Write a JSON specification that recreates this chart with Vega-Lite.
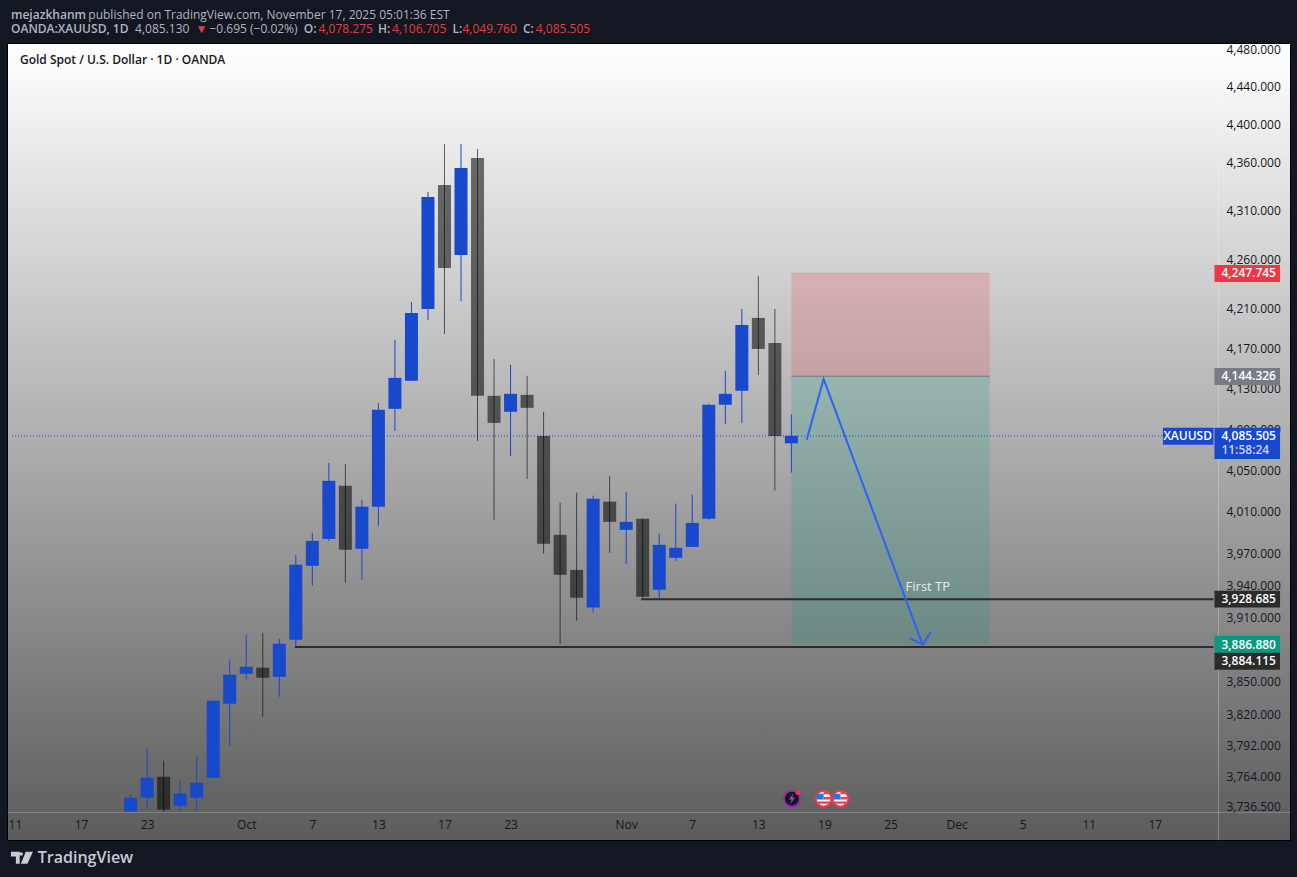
{
  "$schema": "https://vega.github.io/schema/vega-lite/v6.json",
  "width": 1283,
  "height": 797,
  "autosize": {"type": "none"},
  "padding": {"left": 7, "top": 43, "right": 7, "bottom": 37},
  "background": "#131722",
  "view": {
    "stroke": "#000000",
    "fill": {
      "gradient": "linear", "x1": 0, "y1": 0, "x2": 0, "y2": 1,
      "stops": [{"offset": 0, "color": "#ffffff"}, {"offset": 1, "color": "#5c5c5c"}]
    }
  },
  "config": {"font": "Open Sans", "text": {"font": "Open Sans"}},
  "datasets": {
    "candles": [
      {"bar": 7, "date": "Sep 22", "dir": "up", "open": 3734, "high": 3749.2, "low": 3734, "close": 3746.5},
      {"bar": 8, "date": "Sep 23", "dir": "up", "open": 3746.5, "high": 3791.5, "low": 3736.7, "close": 3764.4},
      {"bar": 9, "date": "Sep 24", "dir": "down", "open": 3765.3, "high": 3779.8, "low": 3734, "close": 3735.8},
      {"bar": 10, "date": "Sep 25", "dir": "up", "open": 3739.3, "high": 3761.7, "low": 3734, "close": 3750.1},
      {"bar": 11, "date": "Sep 26", "dir": "up", "open": 3746.5, "high": 3784.3, "low": 3734.9, "close": 3759.9},
      {"bar": 12, "date": "Sep 29", "dir": "up", "open": 3764.4, "high": 3834.5, "low": 3763.5, "close": 3834.5},
      {"bar": 13, "date": "Sep 30", "dir": "up", "open": 3831.7, "high": 3872.3, "low": 3793.3, "close": 3858.4},
      {"bar": 14, "date": "Oct 1", "dir": "up", "open": 3859.3, "high": 3895.5, "low": 3853.8, "close": 3865.8},
      {"bar": 15, "date": "Oct 2", "dir": "down", "open": 3864.9, "high": 3897.3, "low": 3819.9, "close": 3855.6},
      {"bar": 16, "date": "Oct 3", "dir": "up", "open": 3856.5, "high": 3891.8, "low": 3838.1, "close": 3887.1},
      {"bar": 17, "date": "Oct 6", "dir": "up", "open": 3890.9, "high": 3970.8, "low": 3884.3, "close": 3961.3},
      {"bar": 18, "date": "Oct 7", "dir": "up", "open": 3960.4, "high": 3991.8, "low": 3941.5, "close": 3984.1},
      {"bar": 19, "date": "Oct 8", "dir": "up", "open": 3986, "high": 4059.2, "low": 3984.1, "close": 4041.8},
      {"bar": 20, "date": "Oct 9", "dir": "down", "open": 4037, "high": 4058.2, "low": 3944.3, "close": 3975.6},
      {"bar": 21, "date": "Oct 10", "dir": "up", "open": 3976.5, "high": 4023.6, "low": 3947.1, "close": 4016.9},
      {"bar": 22, "date": "Oct 13", "dir": "up", "open": 4016.9, "high": 4118, "low": 3998.5, "close": 4111.1},
      {"bar": 23, "date": "Oct 14", "dir": "up", "open": 4112.1, "high": 4180.5, "low": 4090.5, "close": 4142.7},
      {"bar": 24, "date": "Oct 15", "dir": "up", "open": 4139.8, "high": 4218.6, "low": 4139.8, "close": 4207.6},
      {"bar": 25, "date": "Oct 16", "dir": "up", "open": 4211.6, "high": 4331.3, "low": 4200.5, "close": 4326.1},
      {"bar": 26, "date": "Oct 17", "dir": "down", "open": 4338.6, "high": 4381.3, "low": 4186.6, "close": 4253.1},
      {"bar": 27, "date": "Oct 20", "dir": "up", "open": 4266.4, "high": 4381.3, "low": 4219.6, "close": 4356.2},
      {"bar": 28, "date": "Oct 21", "dir": "down", "open": 4366.7, "high": 4376.1, "low": 4080.7, "close": 4124.9},
      {"bar": 29, "date": "Oct 22", "dir": "down", "open": 4124.9, "high": 4161.5, "low": 4004.2, "close": 4098.3},
      {"bar": 30, "date": "Oct 23", "dir": "up", "open": 4109.2, "high": 4155.6, "low": 4066, "close": 4126.9},
      {"bar": 31, "date": "Oct 24", "dir": "down", "open": 4125.9, "high": 4144.7, "low": 4043.7, "close": 4113.1},
      {"bar": 32, "date": "Oct 27", "dir": "down", "open": 4085.5, "high": 4109.2, "low": 3971.8, "close": 3981.3},
      {"bar": 33, "date": "Oct 28", "dir": "down", "open": 3989.9, "high": 4020.8, "low": 3887.1, "close": 3951.8},
      {"bar": 34, "date": "Oct 29", "dir": "down", "open": 3956.5, "high": 4030.4, "low": 3908.6, "close": 3930.2},
      {"bar": 35, "date": "Oct 30", "dir": "up", "open": 3921, "high": 4027.5, "low": 3916.3, "close": 4024.6},
      {"bar": 36, "date": "Oct 31", "dir": "down", "open": 4021.7, "high": 4046.6, "low": 3972.7, "close": 4002.3},
      {"bar": 37, "date": "Nov 3", "dir": "up", "open": 3994.6, "high": 4031.4, "low": 3962.2, "close": 4002.3},
      {"bar": 38, "date": "Nov 4", "dir": "down", "open": 4005.2, "high": 4005.2, "low": 3930.2, "close": 3931.1},
      {"bar": 39, "date": "Nov 5", "dir": "up", "open": 3937.8, "high": 3990.9, "low": 3929.2, "close": 3980.3},
      {"bar": 40, "date": "Nov 6", "dir": "up", "open": 3968, "high": 4019.8, "low": 3965.1, "close": 3977.5},
      {"bar": 41, "date": "Nov 7", "dir": "up", "open": 3978.4, "high": 4028.5, "low": 3978.4, "close": 4001.3},
      {"bar": 42, "date": "Nov 10", "dir": "up", "open": 4005.2, "high": 4117.1, "low": 4004.2, "close": 4116.1},
      {"bar": 43, "date": "Nov 11", "dir": "up", "open": 4116.1, "high": 4149.6, "low": 4097.3, "close": 4126.9},
      {"bar": 44, "date": "Nov 12", "dir": "up", "open": 4129.9, "high": 4211.6, "low": 4098.3, "close": 4195.5},
      {"bar": 45, "date": "Nov 13", "dir": "down", "open": 4202.6, "high": 4245, "low": 4145.7, "close": 4171.5},
      {"bar": 46, "date": "Nov 14", "dir": "down", "open": 4177.5, "high": 4211.6, "low": 4032.4, "close": 4085.5},
      {"bar": 47, "date": "Nov 17", "dir": "up", "open": 4078.275, "high": 4106.705, "low": 4049.76, "close": 4085.505}
    ],
    "zones": [
      {"zone": "risk", "bar": 47, "bar2": 59, "price": 4247.745, "price2": 4144.326},
      {"zone": "reward", "bar": 47, "bar2": 59, "price": 4144.326, "price2": 3886.88}
    ],
    "levels": [
      {"level": "first tp", "bar": 37.9, "bar2": 72.55, "price": 3928.685},
      {"level": "stop run", "bar": 16.94, "bar2": 72.55, "price": 3884.115}
    ],
    "zoneEdges": [
      {"edge": "top", "bar": 47, "bar2": 59, "price": 4247.745},
      {"edge": "entry", "bar": 47, "bar2": 59, "price": 4144.326}
    ],
    "lastPrice": [{"bar": -0.18, "bar2": 69.49, "price": 4085.505}],
    "arrow": [
      {"path": "shaft", "step": 1, "bar": 47.93, "price": 4081.9},
      {"path": "shaft", "step": 2, "bar": 48.95, "price": 4141.7},
      {"path": "shaft", "step": 3, "bar": 54.95, "price": 3886.2},
      {"path": "head", "step": 1, "bar": 54.17, "price": 3892.7},
      {"path": "head", "step": 2, "bar": 54.95, "price": 3886.2},
      {"path": "head", "step": 3, "bar": 55.44, "price": 3898.3}
    ],
    "tags": [
      {"tag": "risk", "bar": 72.61, "bar2": 76.58, "price": 4256.2, "price2": 4238.9},
      {"tag": "entry", "bar": 72.61, "bar2": 76.58, "price": 4152.6, "price2": 4135.6},
      {"tag": "last", "bar": 69.49, "bar2": 72.55, "price": 4093.4, "price2": 4076.8},
      {"tag": "last", "bar": 72.61, "bar2": 76.58, "price": 4093.4, "price2": 4063.1},
      {"tag": "line", "bar": 72.61, "bar2": 76.58, "price": 3936.7, "price2": 3921},
      {"tag": "reward", "bar": 72.61, "bar2": 76.58, "price": 3894.5, "price2": 3878.7},
      {"tag": "line", "bar": 72.61, "bar2": 76.58, "price": 3878.7, "price2": 3863}
    ],
    "tagText": [
      {"text": "4,247.745", "bar": 73.03, "price": 4247.745, "tone": "white"},
      {"text": "4,144.326", "bar": 73.03, "price": 4144.326, "tone": "white"},
      {"text": "4,085.505", "bar": 73.03, "price": 4085.505, "tone": "white"},
      {"text": "11:58:24", "bar": 73.03, "price": 4071.9, "tone": "pale"},
      {"text": "3,928.685", "bar": 73.03, "price": 3928.685, "tone": "white"},
      {"text": "3,886.880", "bar": 73.03, "price": 3886.4, "tone": "white"},
      {"text": "3,884.115", "bar": 73.03, "price": 3870.9, "tone": "white"}
    ],
    "headerBold": [
      {"text": "mejazkhanm", "bar": -0.24, "price": 4518.6, "tone": "muted"},
      {"text": "OANDA:XAUUSD, 1D", "bar": -0.24, "price": 4503.6, "tone": "muted"},
      {"text": "O:", "bar": 17.48, "price": 4503.6, "tone": "muted"},
      {"text": "H:", "bar": 21.98, "price": 4503.6, "tone": "muted"},
      {"text": "L:", "bar": 26.49, "price": 4503.6, "tone": "muted"},
      {"text": "C:", "bar": 30.75, "price": 4503.6, "tone": "muted"}
    ],
    "headerPlain": [
      {"text": "published on TradingView.com, November 17, 2025 05:01:36 EST", "bar": 4.44, "price": 4518.6, "tone": "muted"},
      {"text": "4,085.130", "bar": 7.27, "price": 4503.6, "tone": "muted"},
      {"text": "▼", "bar": 10.93, "price": 4503.6, "tone": "red"},
      {"text": "−0.695 (−0.02%)", "bar": 11.77, "price": 4503.6, "tone": "muted"},
      {"text": "4,078.275", "bar": 18.38, "price": 4503.6, "tone": "red"},
      {"text": "4,106.705", "bar": 22.82, "price": 4503.6, "tone": "red"},
      {"text": "4,049.760", "bar": 27.09, "price": 4503.6, "tone": "red"},
      {"text": "4,085.505", "bar": 31.53, "price": 4503.6, "tone": "red"}
    ],
    "icons": [{"bar": 47.03, "price": 3745.6}],
    "flags": [{"bar": 48.95, "price": 3745.6}, {"bar": 49.97, "price": 3745.6}]
  },
  "encoding": {
    "x": {"field": "bar", "type": "quantitative", "axis": null, "scale": {"domain": [-0.18, 76.88], "nice": false, "zero": false}},
    "y": {"field": "price", "type": "quantitative", "axis": null, "scale": {"type": "log", "domain": [3708.7, 4488.6], "nice": false}}
  },
  "resolve": {
    "axis": {"x": "independent", "y": "independent"},
    "scale": {"color": "independent", "opacity": "independent"}
  },
  "layer": [
    {
      "data": {"name": "lastPrice"},
      "mark": {"type": "rule", "color": "#1848cc", "strokeWidth": 1, "strokeDash": [1, 2]},
      "encoding": {
        "x": {
          "field": "bar", "type": "quantitative",
          "axis": {
            "orient": "bottom", "offset": -28, "title": null, "ticks": false, "grid": false,
            "domainColor": "#ffffff", "domainOpacity": 0.2, "labelColor": "#131722", "labelFontSize": 12,
            "labelPadding": 7, "labelFlush": false, "labelOverlap": false, "labelBound": false,
            "values": [0, 4, 8, 14, 18, 22, 26, 30, 37, 41, 45, 49, 53, 57, 61, 65, 69],
            "labelExpr": "{'0':'11','4':'17','8':'23','14':'Oct','18':'7','22':'13','26':'17','30':'23','37':'Nov','41':'7','45':'13','49':'19','53':'25','57':'Dec','61':'5','65':'11','69':'17'}[datum.value]"
          }
        },
        "x2": {"field": "bar2"},
        "y": {
          "field": "price", "type": "quantitative",
          "axis": {
            "orient": "right", "offset": -72, "title": null, "ticks": false, "grid": false,
            "domainColor": "#ffffff", "domainOpacity": 0.25, "labelColor": "#131722", "labelFontSize": 12,
            "labelPadding": 8, "labelOverlap": false, "labelBound": false, "labelOffset": -2, "format": ",.3f",
            "values": [4480, 4440, 4400, 4360, 4310, 4260, 4210, 4170, 4130, 4090, 4050, 4010, 3970, 3940, 3910, 3850, 3820, 3792, 3764, 3736.5]
          }
        }
      }
    },
    {
      "data": {"name": "zones"},
      "mark": {"type": "rect", "opacity": 0.2},
      "encoding": {
        "x2": {"field": "bar2"},
        "y2": {"field": "price2"},
        "color": {"field": "zone", "type": "nominal", "legend": null, "scale": {"domain": ["risk", "reward"], "range": ["#f23645", "#089981"]}}
      }
    },
    {
      "data": {"name": "zoneEdges"},
      "mark": {"type": "rule", "strokeWidth": 1},
      "encoding": {
        "x2": {"field": "bar2"},
        "color": {"field": "edge", "type": "nominal", "legend": null, "scale": {"domain": ["top", "entry"], "range": ["#d99a9c", "#787b86"]}}
      }
    },
    {
      "data": {"name": "candles"},
      "mark": {"type": "rule", "strokeWidth": 1},
      "encoding": {
        "y": {"field": "high", "type": "quantitative", "axis": null},
        "y2": {"field": "low"},
        "color": {"field": "dir", "type": "nominal", "legend": null, "scale": {"domain": ["up", "down"], "range": ["#1848cc", "#000000"]}},
        "opacity": {"field": "dir", "type": "nominal", "legend": null, "scale": {"domain": ["up", "down"], "range": [1, 0.6]}}
      }
    },
    {
      "data": {"name": "candles"},
      "mark": {"type": "bar", "size": 13},
      "encoding": {
        "y": {"field": "open", "type": "quantitative", "axis": null, "scale": {"type": "log", "domain": [3708.7, 4488.6], "nice": false}},
        "y2": {"field": "close"},
        "color": {"field": "dir", "type": "nominal", "legend": null, "scale": {"domain": ["up", "down"], "range": ["#1848cc", "#000000"]}},
        "opacity": {"field": "dir", "type": "nominal", "legend": null, "scale": {"domain": ["up", "down"], "range": [1, 0.55]}}
      }
    },
    {
      "data": {"name": "levels"},
      "mark": {"type": "rule", "color": "#2b2b2b", "strokeWidth": 2},
      "encoding": {"x2": {"field": "bar2"}}
    },
    {
      "data": {"name": "arrow"},
      "mark": {"type": "line", "color": "#2e62f5", "strokeWidth": 2},
      "encoding": {
        "detail": {"field": "path"},
        "order": {"field": "step", "type": "ordinal"}
      }
    },
    {
      "data": {"values": [{"text": "First TP", "bar": 55.26, "price": 3940.5}]},
      "mark": {"type": "text", "color": "#e6ebea", "fontSize": 13, "align": "center", "baseline": "middle"},
      "encoding": {"text": {"field": "text"}}
    },
    {
      "data": {"name": "tags"},
      "mark": {"type": "rect"},
      "encoding": {
        "x2": {"field": "bar2"},
        "y2": {"field": "price2"},
        "color": {"field": "tag", "type": "nominal", "legend": null, "scale": {"domain": ["risk", "entry", "last", "line", "reward"], "range": ["#f23645", "#787b86", "#1848cc", "#2b2b2b", "#089981"]}}
      }
    },
    {
      "data": {"name": "tagText"},
      "mark": {"type": "text", "fontSize": 12, "fontWeight": 600, "align": "left", "baseline": "middle"},
      "encoding": {
        "text": {"field": "text"},
        "color": {"field": "tone", "type": "nominal", "legend": null, "scale": {"domain": ["white", "pale"], "range": ["#ffffff", "#c5d2f4"]}}
      }
    },
    {
      "data": {"values": [{"text": "XAUUSD", "bar": 70.99, "price": 4085.505}]},
      "mark": {"type": "text", "color": "#ffffff", "fontSize": 12, "fontWeight": 600, "align": "center", "baseline": "middle"},
      "encoding": {"text": {"field": "text"}}
    },
    {
      "data": {"name": "headerBold"},
      "mark": {"type": "text", "fontSize": 12, "fontWeight": 600, "align": "left", "baseline": "middle"},
      "encoding": {
        "text": {"field": "text"},
        "color": {"field": "tone", "type": "nominal", "legend": null, "scale": {"domain": ["muted", "red"], "range": ["#b2b5be", "#e0403f"]}}
      }
    },
    {
      "data": {"name": "headerPlain"},
      "mark": {"type": "text", "fontSize": 12, "align": "left", "baseline": "middle"},
      "encoding": {
        "text": {"field": "text"},
        "color": {"field": "tone", "type": "nominal", "legend": null, "scale": {"domain": ["muted", "red"], "range": ["#b2b5be", "#e0403f"]}}
      }
    },
    {
      "data": {"values": [{"text": "Gold Spot / U.S. Dollar · 1D · OANDA", "bar": 0.3, "price": 4470.4}]},
      "mark": {"type": "text", "color": "#131722", "fontSize": 12, "fontWeight": 600, "align": "left", "baseline": "middle"},
      "encoding": {"text": {"field": "text"}}
    },
    {
      "data": {"values": [{"text": "TradingView", "bar": 1.38, "price": 3693}]},
      "mark": {"type": "text", "color": "#c9cbd1", "fontSize": 16, "fontWeight": 600, "align": "left", "baseline": "middle"},
      "encoding": {"text": {"field": "text"}}
    },
    {
      "data": {"values": [{"bar": 0.42, "price": 3693}]},
      "mark": {"type": "point", "filled": true, "opacity": 1, "color": "#c9cbd1", "size": 484, "shape": "M-1,-.55H-.2V.55H-.55V-.12H-1ZM.35,-.55H1L.5,.55H-.1ZM-.07,-.5A.16,.16,0,1,1,-.07,-.18A.16,.16,0,1,1,-.07,-.5Z"}
    },
    {
      "data": {"name": "icons"},
      "mark": {"type": "circle", "size": 254, "fill": "#131722", "stroke": "#9c27b0", "strokeWidth": 2, "opacity": 1}
    },
    {
      "data": {"name": "icons"},
      "mark": {"type": "point", "filled": true, "opacity": 1, "color": "#a13fc7", "size": 150, "shape": "M.25,-.9L-.5,.15H-.05L-.25,.9L.5,-.2H.05Z"}
    },
    {
      "data": {"values": [{"bar": 47.38, "price": 3751}]},
      "mark": {"type": "circle", "size": 22, "color": "#f23645", "opacity": 1}
    },
    {
      "data": {"name": "flags"},
      "mark": {"type": "circle", "size": 254, "fill": "#f2f2f2", "stroke": "#f23645", "strokeWidth": 2, "opacity": 1}
    },
    {
      "data": {"name": "flags"},
      "mark": {"type": "point", "filled": true, "opacity": 1, "color": "#2f73d9", "size": 256, "shape": "M-.85,-.6H0V.1H-.95Z"}
    },
    {
      "data": {"name": "flags"},
      "mark": {"type": "point", "filled": true, "opacity": 1, "color": "#e2474f", "size": 256, "shape": "M0,-.85H.6V-.55H0ZM0,-.2H.95V.1H0ZM-.8,.35H.8V.65H-.8Z"}
    }
  ]
}
